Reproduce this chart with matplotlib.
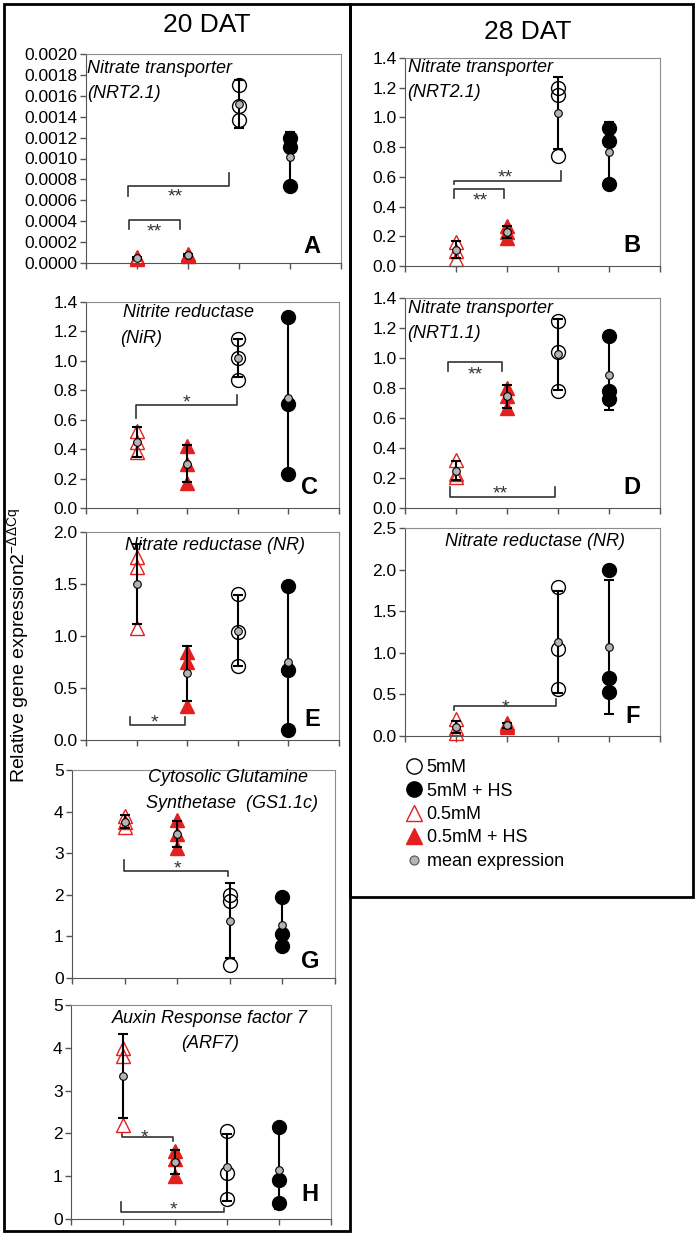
import numpy as np
import matplotlib
matplotlib.use("Agg")
import matplotlib.pyplot as plt
from matplotlib.lines import Line2D
from matplotlib.patches import Rectangle

plt.rcParams['font.family'] = ['Liberation Sans', 'DejaVu Sans']
plt.rcParams['mathtext.fontset'] = 'custom'
plt.rcParams['mathtext.rm'] = 'Liberation Sans'
plt.rcParams['mathtext.it'] = 'Liberation Sans:italic'

# urutan grup di sumbu x: 0.5mM, 0.5mM + HS, 5mM, 5mM + HS
groups = ['0.5mM', '0.5mM + HS', '5mM', '5mM + HS']

# A - 20 DAT NRT2.1
A_reps = [[0.00006, 0.00005, 0.00004], [0.00009, 0.00008, 0.00007],
          [0.00170, 0.00150, 0.00137], [0.00120, 0.00111, 0.00074]]
A_mean = [0.00005, 0.00008, 0.00152, 0.00101]
A_sd = [0.00001, 0.00001, 0.00023, 0.00024]

# B - 28 DAT NRT2.1
B_reps = [[0.16, 0.10, 0.05], [0.27, 0.23, 0.19], [1.20, 1.15, 0.74], [0.93, 0.84, 0.55]]
B_mean = [0.11, 0.23, 1.03, 0.77]
B_sd = [0.055, 0.04, 0.24, 0.20]

# C - 20 DAT NiR
C_reps = [[0.52, 0.45, 0.38], [0.42, 0.30, 0.17], [1.15, 1.02, 0.87], [1.30, 0.71, 0.23]]
C_mean = [0.45, 0.30, 1.02, 0.75]
C_sd = [0.10, 0.125, 0.13, 0.54]

# D - 28 DAT NRT1.1
D_reps = [[0.32, 0.23, 0.21], [0.80, 0.75, 0.67], [1.25, 1.04, 0.78], [1.15, 0.78, 0.73]]
D_mean = [0.25, 0.745, 1.025, 0.885]
D_sd = [0.065, 0.075, 0.235, 0.23]

# E - 20 DAT NR
E_reps = [[1.76, 1.66, 1.08], [0.85, 0.75, 0.33], [1.40, 1.04, 0.71], [1.48, 0.67, 0.10]]
E_mean = [1.50, 0.64, 1.05, 0.75]
E_sd = [0.385, 0.265, 0.34, 0.69]

# F - 28 DAT NR
F_reps = [[0.20, 0.10, 0.04], [0.16, 0.13, 0.11], [1.79, 1.04, 0.56], [1.99, 0.70, 0.53]]
F_mean = [0.11, 0.13, 1.13, 1.07]
F_sd = [0.07, 0.03, 0.61, 0.80]

# G - 20 DAT GS1.1c
G_reps = [[3.90, 3.75, 3.62], [3.80, 3.45, 3.12], [2.00, 1.84, 0.32], [1.95, 1.05, 0.78]]
G_mean = [3.76, 3.46, 1.38, 1.28]
G_sd = [0.15, 0.32, 0.90, 0.61]

# H - 20 DAT ARF7
H_reps = [[4.00, 3.80, 2.20], [1.60, 1.40, 1.00], [2.05, 1.08, 0.47], [2.15, 0.90, 0.38]]
H_mean = [3.34, 1.33, 1.21, 1.15]
H_sd = [0.98, 0.28, 0.78, 0.91]

RED = '#e3201e'
W, H = 700, 1242

fig = plt.figure(figsize=(7, 12.42), dpi=100)


def px_box(x0, y0, x1, y1):
    # koordinat pixel -> fraksi figure
    return [x0 / W, 1 - y1 / H, (x1 - x0) / W, (y1 - y0) / H]


styles = [
    dict(marker='^', mfc='none', mec=RED, mew=1.0),
    dict(marker='^', mfc=RED, mec=RED, mew=1.0),
    dict(marker='o', mfc='none', mec='black', mew=1.0),
    dict(marker='o', mfc='black', mec='black', mew=1.0),
]


def panel(rect, reps, mean, sd, ymax, step, fmt, texts, letter, letter_pos, brackets):
    ax = fig.add_axes(px_box(*rect))
    for i in range(4):
        x = i + 1
        ax.plot([x] * len(reps[i]), reps[i], ls='none', ms=10, clip_on=False, zorder=2, **styles[i])
        ax.errorbar(x, mean[i], yerr=sd[i], fmt='none', ecolor='black', elinewidth=1.5,
                    capsize=3.5, capthick=1.5, zorder=3, clip_on=False)
        ax.plot(x, mean[i], 'o', ms=5.5, mfc='#b4b4b4', mec='black', mew=0.8, zorder=4, clip_on=False)

    # garis signifikansi
    for (x0, x1, y, y0, y1, lab, lx, ly) in brackets:
        ax.plot([x0, x0, x1, x1], [y0, y, y, y1], color='#333333', lw=1.2, zorder=1)
        ax.annotate(lab, (lx, ly), xytext=(0, -3), textcoords='offset points',
                    ha='center', va='center', fontsize=14, color='#333333')

    ax.set_xlim(0, 5)
    ax.set_xticks(range(6))
    ax.set_xticklabels([])
    ax.set_ylim(0, ymax)
    yt = np.arange(0, ymax + step / 2, step)
    ax.set_yticks(yt)
    ax.set_yticklabels([fmt % v for v in yt])
    ax.tick_params(direction='out', length=4, width=1, color='#555555', labelsize=12.5, pad=2)
    for s in ['left', 'bottom']:
        ax.spines[s].set_color('#555555')
    for s in ['top', 'right']:
        ax.spines[s].set_color('#8c8c8c')

    for (tx, ty, s, ha) in texts:
        ax.text(tx, ty, s, transform=ax.transAxes, ha=ha, va='center', fontsize=13, style='italic')
    ax.text(letter_pos[0], letter_pos[1], letter, transform=ax.transAxes, ha='center', va='center',
            fontsize=17, fontweight='bold')
    return ax


panel((86, 54, 341, 263), A_reps, A_mean, A_sd, 0.002, 0.0002, '%.4f',
      [(0.005, 0.933, 'Nitrate transporter', 'left'), (0.005, 0.813, '(NRT2.1)', 'left')],
      'A', (0.886, 0.08),
      [(0.82, 2.80, 0.00074, 0.00064, 0.00086, '**', 1.76, 0.00067),
       (0.85, 1.84, 0.000414, 0.000325, 0.000325, '**', 1.34, 0.00034)])

panel((405, 58, 660, 266), B_reps, B_mean, B_sd, 1.4, 0.2, '%.1f',
      [(0.01, 0.952, 'Nitrate transporter', 'left'), (0.01, 0.832, '(NRT2.1)', 'left')],
      'B', (0.89, 0.10),
      [(0.97, 3.06, 0.574, 0.55, 0.64, '**', 1.96, 0.62),
       (0.97, 1.94, 0.515, 0.46, 0.46, '**', 1.47, 0.466)])

panel((86, 302, 339, 508), C_reps, C_mean, C_sd, 1.4, 0.2, '%.1f',
      [(0.146, 0.951, 'Nitrite reductase', 'left'), (0.134, 0.825, '(NiR)', 'left')],
      'C', (0.885, 0.10),
      [(0.98, 2.99, 0.698, 0.613, 0.765, '*', 1.98, 0.74)])

panel((405, 298, 660, 508), D_reps, D_mean, D_sd, 1.4, 0.2, '%.1f',
      [(0.01, 0.952, 'Nitrate transporter', 'left'), (0.01, 0.833, '(NRT1.1)', 'left')],
      'D', (0.89, 0.10),
      [(0.84, 1.91, 0.971, 0.915, 0.915, '**', 1.37, 0.915),
       (0.88, 2.95, 0.074, 0.141, 0.141, '**', 1.86, 0.12)])

panel((86, 532, 339, 740), E_reps, E_mean, E_sd, 2.0, 0.5, '%.1f',
      [(0.154, 0.9375, 'Nitrate reductase (NR)', 'left')],
      'E', (0.893, 0.10),
      [(0.875, 1.96, 0.144, 0.224, 0.224, '*', 1.36, 0.20)])

panel((405, 528, 660, 736), F_reps, F_mean, F_sd, 2.5, 0.5, '%.1f',
      [(0.51, 0.9375, 'Nitrate reductase (NR)', 'center')],
      'F', (0.894, 0.095),
      [(0.97, 2.97, 0.361, 0.31, 0.45, '*', 1.97, 0.39)])

panel((72, 770, 335, 978), G_reps, G_mean, G_sd, 5, 1, '%d',
      [(0.593, 0.966, 'Cytosolic Glutamine', 'center'), (0.61, 0.841, 'Synthetase  (GS1.1c)', 'center')],
      'G', (0.905, 0.08),
      [(0.98, 2.97, 2.58, 2.84, 2.44, '*', 2.0, 2.72)])

panel((71, 1005, 331, 1219), H_reps, H_mean, H_sd, 5, 1, '%d',
      [(0.535, 0.939, 'Auxin Response factor 7', 'center'), (0.535, 0.822, '(ARF7)', 'center')],
      'H', (0.919, 0.115),
      [(0.99, 1.97, 1.91, 1.99, 1.82, '*', 1.42, 2.0),
       (0.96, 2.95, 0.16, 0.39, 0.26, '*', 1.98, 0.30)])

# kotak luar kiri & kanan
fig.patches.append(Rectangle((4 / W, 1 - 1231 / H), 346 / W, 1227 / H, transform=fig.transFigure,
                             fill=False, ec='black', lw=2))
fig.patches.append(Rectangle((350 / W, 1 - 897 / H), 343 / W, 893 / H, transform=fig.transFigure,
                             fill=False, ec='black', lw=2))

fig.text(207 / W, 1 - 25 / H, '20 DAT', ha='center', va='center', fontsize=19)
fig.text(528 / W, 1 - 32 / H, '28 DAT', ha='center', va='center', fontsize=19)

fig.text(18 / W, 1 - 646 / H, r'Relative gene expression2$^{\mathregular{-\Delta\Delta Cq}}$',
         rotation=90, ha='center', va='center', fontsize=14)

handles = [
    Line2D([], [], ls='none', marker='o', ms=11, mfc='none', mec='black', mew=1.0),
    Line2D([], [], ls='none', marker='o', ms=11, mfc='black', mec='black'),
    Line2D([], [], ls='none', marker='^', ms=12, mfc='none', mec=RED, mew=1.0),
    Line2D([], [], ls='none', marker='^', ms=12, mfc=RED, mec=RED),
    Line2D([], [], ls='none', marker='o', ms=6.5, mfc='#b4b4b4', mec='#555555', mew=0.8),
]
labels = ['5mM', '5mM + HS', '0.5mM', '0.5mM + HS', 'mean expression']
fig.legend(handles, labels, loc='upper left', bbox_to_anchor=(405 / W, 1 - 759 / H),
           frameon=False, fontsize=13, handlelength=1.0, handletextpad=0.2,
           labelspacing=0.36, borderpad=0, borderaxespad=0)

fig.savefig('out.png', dpi=100)
